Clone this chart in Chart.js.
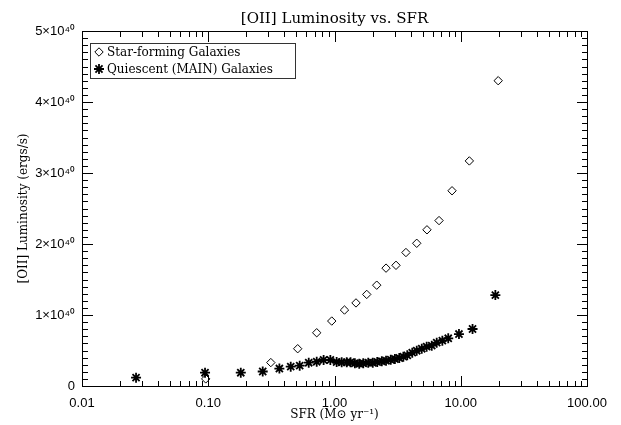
<!DOCTYPE html>
<html><head><meta charset="utf-8">
<script src="https://cdn.jsdelivr.net/npm/chart.js@4/dist/chart.umd.min.js"></script>
<style>html,body{margin:0;padding:0;background:#fff}</style>
</head><body>
<canvas id="c" width="621" height="425"></canvas>
<script>
// ---- data ----
const chartTitle = '[OII] Luminosity vs. SFR';
const xTitle = 'SFR (M\u2299 yr\u207B\u00B9)';
const yTitle = '[OII] Luminosity (ergs/s)';
const seriesNames = ['Star-forming Galaxies', 'Quiescent (MAIN) Galaxies'];

// SFR in Msun/yr, luminosity in units of 10^40 erg/s
const sfSFR = [0.0955, 0.313, 0.511, 0.723, 0.951, 1.20, 1.48, 1.80, 2.16, 2.56, 3.07, 3.68, 4.48, 5.40, 6.73, 8.53, 11.7, 19.8];
const sfLum = [0.10, 0.33, 0.525, 0.75, 0.915, 1.07, 1.17, 1.29, 1.42, 1.66, 1.70, 1.88, 2.01, 2.20, 2.33, 2.75, 3.17, 4.30];

const qSFR = [0.0268, 0.0943, 0.181, 0.270, 0.366, 0.450, 0.530, 0.625, 0.723, 0.820, 0.927, 1.04, 1.14, 1.25, 1.34, 1.45, 1.57, 1.69, 1.85, 2.01, 2.18, 2.37, 2.56, 2.79, 3.01, 3.26, 3.51, 3.77, 4.13, 4.48, 4.91, 5.37, 5.89, 6.45, 7.15, 7.96, 9.68, 12.4, 18.8];
const qLum = [0.117, 0.187, 0.187, 0.204, 0.246, 0.272, 0.286, 0.328, 0.342, 0.366, 0.366, 0.338, 0.334, 0.334, 0.334, 0.320, 0.314, 0.320, 0.328, 0.328, 0.338, 0.348, 0.356, 0.370, 0.380, 0.394, 0.413, 0.432, 0.469, 0.497, 0.525, 0.554, 0.568, 0.610, 0.638, 0.672, 0.732, 0.803, 1.28];

const xTickValues = [0.01, 0.1, 1, 10, 100];
const xMinorMultipliers = [2, 3, 4, 5, 6, 7, 8, 9];
const yTickValues = [0, 1, 2, 3, 4, 5];
const yMinorStep = 0.1;

// ---- chart ----
const tickFont = {family: 'Liberation Sans, Arial, sans-serif', size: 13};
const serif = 'DejaVu Serif, serif';

function drawFrame(chart) {
  const ctx = chart.ctx, a = chart.chartArea;
  const sx = chart.scales.x, sy = chart.scales.y;
  const L = Math.round(a.left), R = Math.round(a.right);
  const T = Math.round(a.top), B = Math.round(a.bottom);
  ctx.save();
  ctx.fillStyle = '#000';
  // frame
  ctx.fillRect(L, T, R - L + 1, 1);
  ctx.fillRect(L, B, R - L + 1, 1);
  ctx.fillRect(L, T, 1, B - T + 1);
  ctx.fillRect(R, T, 1, B - T + 1);
  // x ticks
  const xt = (v, len) => {
    const px = Math.round(sx.getPixelForValue(v));
    ctx.fillRect(px, B - len, 1, len);
    ctx.fillRect(px, T + 1, 1, len);
  };
  xTickValues.forEach((dv, di) => {
    xt(dv, 10);
    if (di < xTickValues.length - 1) xMinorMultipliers.forEach(k => xt(k * dv, 5));
  });
  // y ticks
  const yMax = yTickValues[yTickValues.length - 1];
  const nMinor = Math.round(yMax / yMinorStep);
  for (let i = 0; i <= nMinor; i++) {
    const py = Math.round(sy.getPixelForValue(i * yMinorStep));
    const len = (i % 10 === 0) ? 10 : 5;
    ctx.fillRect(L + 1, py, len, 1);
    ctx.fillRect(R - len, py, len, 1);
  }
  ctx.restore();
}

const framePlugin = {
  id: 'frame',
  afterDraw(chart) {
    const {ctx, chartArea: a} = chart;
    drawFrame(chart);
    ctx.save();
    ctx.fillStyle = '#000';
    ctx.font = '15px ' + serif;
    ctx.textAlign = 'center';
    ctx.textBaseline = 'alphabetic';
    ctx.fillText(chartTitle, (a.left + a.right) / 2, 23);
    ctx.font = '12px ' + serif;
    ctx.fillText(xTitle, (a.left + a.right) / 2, 418);
    ctx.save();
    ctx.translate(24, (a.top + a.bottom) / 2);
    ctx.rotate(-Math.PI / 2);
    ctx.textBaseline = 'middle';
    ctx.fillText(yTitle, 0, 0);
    ctx.restore();
    // legend
    const bx = 90, by = 43, bw = 205, bh = 35;
    ctx.strokeStyle = '#333';
    ctx.lineWidth = 1;
    ctx.strokeRect(bx + 0.5, by + 0.5, bw, bh);
    ctx.textAlign = 'left';
    ctx.textBaseline = 'middle';
    ctx.font = '12px ' + serif;
    chart.data.datasets.forEach((ds, i) => {
      const ly = 52 + i * 17;
      ctx.save();
      ctx.strokeStyle = ds.borderColor;
      ctx.fillStyle = ds.backgroundColor;
      ctx.lineWidth = ds.borderWidth;
      Chart.helpers.drawPoint(ctx, {
        pointStyle: ds.pointStyle, radius: ds.pointRadius,
        borderWidth: ds.borderWidth, rotation: 0
      }, 99, ly);
      ctx.restore();
      ctx.fillStyle = '#000';
      ctx.fillText(ds.label, 107, ly + 1);
    });
    ctx.restore();
  }
};

new Chart(document.getElementById('c'), {
  type: 'scatter',
  data: {
    datasets: [
      {
        label: seriesNames[0],
        data: sfSFR.map((v, i) => ({x: v, y: sfLum[i]})),
        pointStyle: 'rectRot', pointRadius: 4.2, borderWidth: 1,
        borderColor: '#000', backgroundColor: 'rgba(255,255,255,0)'
      },
      {
        label: seriesNames[1],
        data: qSFR.map((v, i) => ({x: v, y: qLum[i]})),
        pointStyle: 'star', pointRadius: 5, borderWidth: 1.8,
        borderColor: '#000', backgroundColor: '#000'
      }
    ]
  },
  options: {
    responsive: false, animation: false, devicePixelRatio: 1,
    layout: {padding: {left: 0, right: 34, top: 31, bottom: 0}},
    plugins: {legend: {display: false}, tooltip: {enabled: false}, title: {display: false}},
    scales: {
      x: {
        type: 'logarithmic', min: 0.01, max: 100,
        afterBuildTicks: s => { s.ticks = xTickValues.map(v => ({value: v})); },
        afterFit: s => { s.height = 39; },
        grid: {display: false, drawTicks: false}, border: {display: false},
        ticks: {font: tickFont, color: '#000', padding: 10, maxRotation: 0, autoSkip: false,
          callback: v => Number(v).toFixed(2)}
      },
      y: {
        type: 'linear', min: 0, max: 5,
        afterBuildTicks: s => { s.ticks = yTickValues.map(v => ({value: v})); },
        afterFit: s => { s.width = 82; },
        grid: {display: false, drawTicks: false}, border: {display: false},
        ticks: {font: tickFont, color: '#000', padding: 7,
          callback: v => v === 0 ? '0' : v + '\u00D710\u2074\u2070'}
      }
    }
  },
  plugins: [framePlugin]
});
</script>
</body></html>
